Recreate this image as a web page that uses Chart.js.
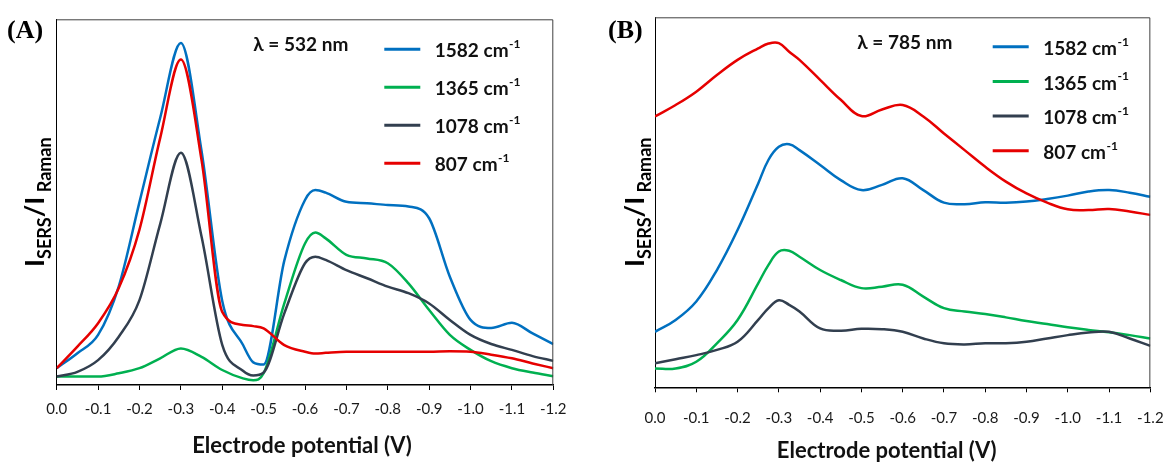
<!DOCTYPE html>
<html lang="en">
<head>
  <meta charset="UTF-8" />
  <title>SERS / Raman intensity vs electrode potential</title>
  <script src="https://cdn.jsdelivr.net/npm/chart.js"></script>
  <style>
    * { box-sizing: border-box; }
    body {
      margin: 0;
      width: 1164px;
      height: 462px;
      position: relative;
      overflow: hidden;
      background: #fff;
    }
    canvas { position: absolute; top: 0; }
    #chartA { left: 0; }
    #chartB { left: 580px; }
  </style>
</head>
<body>
  <canvas id="chartA" width="580" height="462"></canvas>
  <canvas id="chartB" width="600" height="462"></canvas>

  <script>
    // Raman bands (cm-1) and their line colours
    const bands = ['1582', '1365', '1078', '807'];
    const bandColors = ['#0070C0', '#00B050', '#323F4F', '#E60000'];

    // (A) 532 nm excitation
    const potentialA = [0, -0.05, -0.1, -0.15, -0.2, -0.25, -0.3, -0.35, -0.4, -0.45, -0.475, -0.5, -0.55, -0.6, -0.625, -0.65, -0.7, -0.75, -0.8, -0.85, -0.9, -0.95, -1.0, -1.05, -1.1, -1.15, -1.2];
    const a1582 = [4.6, 8.7, 13.7, 27, 50, 73, 93.5, 64, 23, 11, 6.2, 5.6, 34, 50.6, 53.3, 52.6, 50.1, 49.7, 49.2, 48.8, 45.6, 29.6, 17.8, 15.6, 17, 14.1, 11.2];
    const a1365 = [2.3, 2.3, 2.3, 3.2, 4.6, 7.3, 10, 7.7, 4.1, 1.8, 1.3, 3.2, 22.3, 38.7, 41.7, 40.1, 35.6, 34.6, 33.3, 27.8, 20.5, 13.7, 9.6, 6.5, 4.6, 3.4, 2.4];
    const a1078 = [2.3, 3.6, 6.8, 13.2, 23.2, 44, 63.5, 40.6, 11, 3.9, 2.6, 3.4, 19.6, 33.3, 35.1, 34.2, 31.4, 29.2, 26.9, 25.1, 22.3, 17.8, 13.7, 11.2, 9.6, 7.9, 6.6];
    const a807 = [4.6, 10.5, 16.9, 26.5, 42.5, 67.5, 89, 61.5, 20, 16.4, 16.1, 15.5, 10.9, 9.1, 8.6, 8.8, 9.1, 9.1, 9.1, 9.1, 9.1, 9.2, 9.1, 8.3, 7.3, 5.9, 4.6];

    // (B) 785 nm excitation
    const potentialB = [0, -0.05, -0.1, -0.15, -0.2, -0.25, -0.275, -0.3, -0.325, -0.35, -0.4, -0.45, -0.5, -0.55, -0.6, -0.65, -0.7, -0.75, -0.8, -0.85, -0.9, -0.95, -1.0, -1.05, -1.1, -1.15, -1.2];
    const b1582 = [15.0, 18.2, 23.2, 31.7, 42.5, 55.1, 61.5, 65.0, 65.7, 64.1, 60.1, 56.0, 53.3, 54.7, 56.5, 53.3, 49.9, 49.5, 50.0, 49.9, 50.2, 50.9, 51.8, 52.9, 53.3, 52.6, 51.5];
    const b1365 = [5.1, 5.1, 6.9, 11.9, 18.2, 28.1, 33.1, 36.7, 36.9, 35.3, 31.7, 29.0, 26.8, 27.2, 27.7, 24.5, 21.4, 20.5, 19.8, 18.9, 17.9, 17.1, 16.2, 15.5, 14.9, 14.1, 13.2];
    const b1078 = [6.5, 7.6, 8.7, 10.1, 12.3, 18.2, 21.4, 23.5, 22.3, 20.5, 15.9, 15.3, 15.8, 15.7, 15.0, 13.2, 11.9, 11.6, 11.9, 11.9, 12.3, 13.2, 14.1, 14.8, 15.0, 13.2, 11.2];
    const b807 = [73.2, 76.3, 79.9, 84.4, 88.5, 91.6, 92.9, 93.0, 90.7, 88.5, 83.1, 77.7, 73.3, 75.1, 76.3, 73.2, 68.6, 64.1, 59.6, 55.6, 52.4, 49.9, 48.1, 47.9, 48.2, 47.5, 46.6];

    const xTicks = { min: -1.2, max: 0, step: 0.1 };
    const xTitle = 'Electrode potential (V)';

    const SANS = 'Lato, "Open Sans", "DejaVu Sans", sans-serif';
    Chart.defaults.font.family = SANS;

    // monotone keeps the sharp 532 nm peaks from overshooting,
    // the smoother 785 nm curves use a plain bezier
    function makeDatasets(xs, series, monotone) {
      return series.map((ys, i) => ({
        label: bands[i] + ' cm⁻¹',
        wavenumber: bands[i],
        data: xs.map((x, j) => ({ x: x, y: ys[j] })),
        borderColor: bandColors[i],
        backgroundColor: bandColors[i],
        borderWidth: 2.5,
        pointRadius: 0,
        fill: false,
        cubicInterpolationMode: monotone ? 'monotone' : 'default',
        tension: 0.4,
        order: series.length - 1 - i   // red drawn last, on top
      }));
    }

    // frame, panel letter, laser line, legend and both axis titles
    const panelDecor = {
      id: 'panelDecor',
      afterDraw(chart, args, opts) {
        const { ctx, chartArea: a } = chart;
        ctx.save();

        ctx.strokeStyle = '#404040';
        ctx.lineWidth = 1;
        ctx.beginPath();
        ctx.moveTo(a.left, a.top + 0.5);
        ctx.lineTo(a.right - 0.5, a.top + 0.5);
        ctx.lineTo(a.right - 0.5, a.bottom);
        ctx.stroke();

        ctx.fillStyle = '#000';
        ctx.textAlign = 'left';
        ctx.textBaseline = 'middle';
        ctx.font = 'bold 26px "Liberation Serif", "DejaVu Serif", serif';
        ctx.fillText(opts.letter, opts.letterX, opts.letterY);

        ctx.fillStyle = '#111';
        ctx.font = 'bold 19px ' + SANS;
        ctx.fillText(opts.laser, a.left + opts.laserDx, a.top + opts.laserDy);

        chart.data.datasets.forEach((ds, i) => {
          const x = a.left + opts.legendDx;
          const y = a.top + opts.legendDy + i * opts.legendGap;
          ctx.strokeStyle = ds.borderColor;
          ctx.lineWidth = 3;
          ctx.beginPath();
          ctx.moveTo(x, y);
          ctx.lineTo(x + 36, y);
          ctx.stroke();

          const main = ds.wavenumber + ' cm';
          ctx.font = 'bold 19px ' + SANS;
          ctx.fillText(main, x + 50.5, y + 2);
          const w = ctx.measureText(main).width;
          ctx.font = 'bold 12px ' + SANS;
          ctx.fillText('-1', x + 51 + w, y - 5);
        });

        // x title
        ctx.textAlign = 'center';
        ctx.font = 'bold 22px ' + SANS;
        ctx.fillText(xTitle, (a.left + a.right) / 2 + opts.xTitleDx, opts.xTitleY);

        // I_SERS / I_Raman, rotated
        const parts = [
          ['I', false], ['SERS', true], ['/', false], ['I', false], [' Raman', true]
        ];
        const bigFont = 'bold 27px ' + SANS;
        const subFont = 'bold 18px ' + SANS;
        let total = 0;
        parts.forEach(p => {
          ctx.font = p[1] ? subFont : bigFont;
          total += ctx.measureText(p[0]).width;
        });
        ctx.translate(opts.yTitleX, (a.top + a.bottom) / 2);
        ctx.rotate(-Math.PI / 2);
        ctx.fillStyle = '#000';
        ctx.textAlign = 'left';
        ctx.textBaseline = 'alphabetic';
        let pos = -total / 2;
        parts.forEach(p => {
          ctx.font = p[1] ? subFont : bigFont;
          ctx.fillText(p[0], pos, p[1] ? 7 : 0);
          pos += ctx.measureText(p[0]).width;
        });

        ctx.restore();
      }
    };

    function makeChart(id, xs, series, monotone, layout, decor) {
      return new Chart(document.getElementById(id), {
        type: 'line',
        data: { datasets: makeDatasets(xs, series, monotone) },
        plugins: [panelDecor],
        options: {
          responsive: false,
          animation: false,
          devicePixelRatio: 1,
          layout: { padding: { left: layout.left, top: layout.top, right: layout.right, bottom: 0 } },
          plugins: {
            legend: { display: false },
            tooltip: { enabled: false },
            panelDecor: decor
          },
          scales: {
            x: {
              type: 'linear',
              reverse: true,
              min: xTicks.min,
              max: xTicks.max,
              border: { display: true, color: '#000', width: 1.5 },
              grid: {
                drawOnChartArea: false,
                drawTicks: true,
                tickLength: 5,
                color: '#000',
                tickColor: '#000',
                tickWidth: 1
              },
              ticks: {
                stepSize: xTicks.step,
                autoSkip: false,
                maxRotation: 0,
                padding: layout.tickPad,
                color: '#1a1a1a',
                font: { size: 15 },
                callback: v => (Math.abs(v) < 1e-9 ? '0.0' : v.toFixed(1))
              },
              afterFit: s => { s.height = layout.axisHeight; }
            },
            y: {
              min: 0,
              max: 100,
              ticks: { display: false },
              grid: { display: false },
              border: { display: true, color: '#000', width: 1 },
              afterFit: s => { s.width = 0; }
            }
          }
        }
      });
    }

    makeChart('chartA', potentialA, [a1582, a1365, a1078, a807], true,
      { left: 56.7, top: 19.3, right: 26.7, axisHeight: 77, tickPad: 10 },
      { letter: '(A)', letterX: 7, letterY: 31, laser: 'λ = 532 nm', laserDx: 196.6, laserDy: 26,
        legendDx: 327.6, legendDy: 30, legendGap: 38, yTitleX: 44,
        xTitleDx: -3, xTitleY: 446 });

    makeChart('chartB', potentialB, [b1582, b1365, b1078, b807], false,
      { left: 75, top: 17.3, right: 28.3, axisHeight: 74.7, tickPad: 16.4 },
      { letter: '(B)', letterX: 28, letterY: 31, laser: 'λ = 785 nm', laserDx: 202.3, laserDy: 26,
        legendDx: 337.7, legendDy: 29.4, legendGap: 34.7, yTitleX: 64,
        xTitleDx: -16, xTitleY: 451 });
  </script>
</body>
</html>
